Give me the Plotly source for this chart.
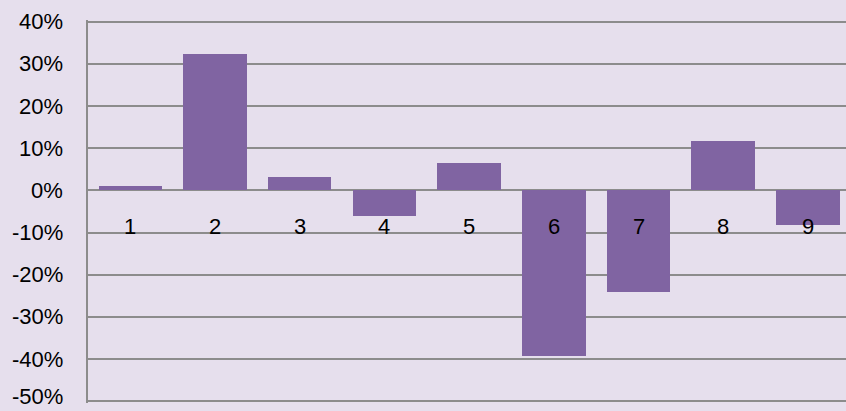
import plotly.graph_objects as go

categories = ["1", "2", "3", "4", "5", "6", "7", "8", "9"]
values = [0.010, 0.324, 0.031, -0.061, 0.065, -0.392, -0.240, 0.116, -0.083]
y_ticks = [0.4, 0.3, 0.2, 0.1, 0.0, -0.1, -0.2, -0.3, -0.4, -0.5]
y_tick_labels = ["40%", "30%", "20%", "10%", "0%", "-10%", "-20%", "-30%", "-40%", "-50%"]

FONT = "Liberation Sans, Arial, sans-serif"

fig = go.Figure()
fig.add_trace(go.Bar(
    x=list(range(len(categories))),
    y=values,
    width=0.75,
    marker=dict(color="#8064a2", line=dict(width=0)),
    hoverinfo="skip",
))

for i, c in enumerate(categories):
    fig.add_annotation(
        x=i, y=0, xref="x", yref="y", text=c, showarrow=False,
        yanchor="middle", yshift=-36,
        font=dict(family=FONT, size=22, color="#000000"),
    )

# y tick labels as annotations so the bottom one is not dropped
for v, t in zip(y_ticks, y_tick_labels):
    fig.add_annotation(
        x=0, y=v, xref="paper", yref="y", text=t, showarrow=False,
        xanchor="right", yanchor="middle", xshift=-23,
        yshift=5 if v == min(y_ticks) else 0,
        font=dict(family=FONT, size=22, color="#000000"),
    )

fig.update_layout(
    width=846, height=411,
    margin=dict(l=88, r=0, t=20, b=8, autoexpand=False),
    paper_bgcolor="#e6dfed",
    plot_bgcolor="rgba(0,0,0,0)",
    showlegend=False,
    bargap=0,
    xaxis=dict(
        range=[-0.5, 8.45], automargin=False,
        showticklabels=False, showgrid=False, zeroline=False,
        showline=False, ticks="",
    ),
    yaxis=dict(
        range=[-0.504, 0.404], automargin=False,
        tickvals=y_ticks, showticklabels=False,
        showgrid=True, gridcolor="#8c8c8c", gridwidth=1.5,
        zeroline=False,
        showline=True, linecolor="#8c8c8c", linewidth=1.5,
        ticks="",
    ),
)

fig.write_html(
    "out.html",
    config={"displayModeBar": False},
    post_script="document.body.style.margin='0';document.body.style.overflow='hidden';document.body.style.background='#e6dfed';",
)
